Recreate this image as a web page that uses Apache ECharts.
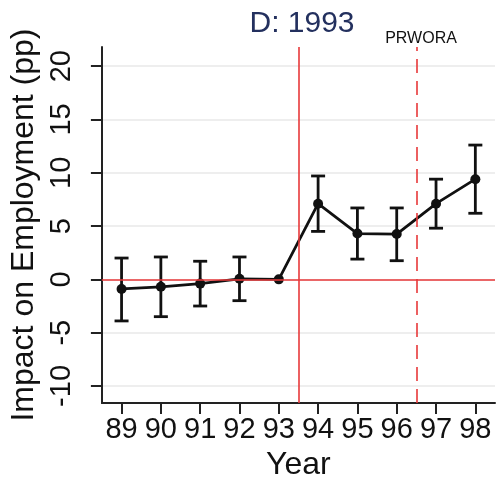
<!DOCTYPE html>
<html>
<head>
<meta charset="utf-8">
<script src="https://cdn.jsdelivr.net/npm/echarts@6/dist/echarts.min.js"></script>
<style>
html,body{margin:0;padding:0;background:#fff;}
#chart{width:497px;height:487px;}
</style>
</head>
<body>
<div id="chart"></div>
<script>
const years = [89, 90, 91, 92, 93, 94, 95, 96, 97, 98];
const estimates = [-0.9, -0.7, -0.4, 0.05, 0, 7.1, 4.3, 4.25, 7.1, 9.4];
const lower = [-3.9, -3.5, -2.5, -2.0, 0, 4.5, 1.9, 1.75, 4.8, 6.2];
const upper = [2.0, 2.1, 1.7, 2.1, 0, 9.7, 6.7, 6.7, 9.4, 12.6];
const yTicks = [-10, -5, 0, 5, 10, 15, 20];
const policyLines = [93.5, 96.5];
const titleText = 'D: 1993';
const policyLabel = 'PRWORA';

const FONT = '"Liberation Sans", Arial, sans-serif';
const RED = '#e8393a';

const chart = echarts.init(document.getElementById('chart'), null, {renderer: 'canvas'});

const errData = years.map((y, i) => [y, lower[i], upper[i]]);

const option = {
  animation: false,
  backgroundColor: '#fff',
  title: [{
    text: titleText, left: 297, top: 4, textAlign: 'center',
    textStyle: {fontFamily: FONT, fontSize: 30, fontWeight: 'normal', color: '#23305e'}
  }, {
    text: policyLabel, left: 416, top: 26, textAlign: 'center',
    textStyle: {fontFamily: FONT, fontSize: 16, fontWeight: 'normal', color: '#111'}
  }],
  grid: {left: 99, right: 2, top: 47, bottom: 84},
  xAxis: {
    type: 'value', min: 88.5, max: 98.5,
    name: 'Year', nameLocation: 'middle', nameGap: 44,
    nameTextStyle: {fontFamily: FONT, fontSize: 32, color: '#111'},
    axisLine: {show: true, onZero: false, lineStyle: {color: '#222', width: 2}},
    axisTick: {show: true, length: 11, lineStyle: {color: '#222', width: 2}, customValues: years},
    axisLabel: {fontFamily: FONT, fontSize: 29, color: '#111', margin: 12, customValues: years,
      formatter: v => String(v)},
    splitLine: {show: false}
  },
  yAxis: {
    type: 'value', min: -11.6, max: 21.8,
    name: 'Impact on Employment (pp)', nameLocation: 'middle', nameGap: 57,
    nameTextStyle: {fontFamily: FONT, fontSize: 32, color: '#111'},
    axisLine: {show: true, lineStyle: {color: '#222', width: 2}},
    axisTick: {show: true, length: 11, lineStyle: {color: '#222', width: 2}, customValues: yTicks},
    axisLabel: {fontFamily: FONT, fontSize: 29, color: '#111', margin: 25, rotate: 90, customValues: yTicks,
      formatter: v => String(v)},
    splitLine: {show: true, lineStyle: {color: '#e9e9e9', width: 1.5}}
  },
  series: [
    {
      type: 'line', data: [], z: 1,
      markLine: {
        silent: true, symbol: 'none', label: {show: false},
        data: [
          {xAxis: policyLines[0], lineStyle: {color: RED, width: 1.6, type: 'solid'}},
          {xAxis: policyLines[1], lineStyle: {color: RED, width: 1.6, type: [14, 8]}},
          {yAxis: 0, lineStyle: {color: RED, width: 1.6, type: 'solid'}}
        ]
      }
    },
    {
      type: 'custom', z: 3,
      data: errData,
      renderItem: function (params, api) {
        const x = api.value(0);
        const lo = api.coord([x, api.value(1)]);
        const hi = api.coord([x, api.value(2)]);
        if (Math.abs(hi[1] - lo[1]) < 0.5) return null;
        const hw = 7;
        const st = {stroke: '#111', lineWidth: 2.8};
        return {
          type: 'group',
          children: [
            {type: 'line', shape: {x1: lo[0], y1: lo[1], x2: hi[0], y2: hi[1]}, style: st},
            {type: 'line', shape: {x1: lo[0] - hw, y1: lo[1], x2: lo[0] + hw, y2: lo[1]}, style: st},
            {type: 'line', shape: {x1: hi[0] - hw, y1: hi[1], x2: hi[0] + hw, y2: hi[1]}, style: st}
          ]
        };
      }
    },
    {
      type: 'line', z: 4,
      data: years.map((y, i) => [y, estimates[i]]),
      symbol: 'circle', symbolSize: 10,
      itemStyle: {color: '#111'},
      lineStyle: {color: '#111', width: 2.8}
    }
  ]
};
chart.setOption(option);
</script>
</body>
</html>
